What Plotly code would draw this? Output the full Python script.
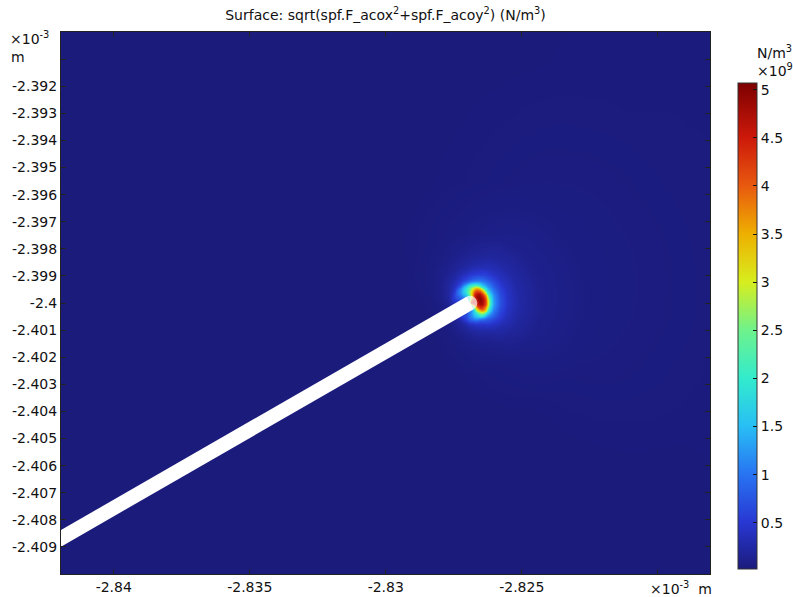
import numpy as np
import plotly.graph_objects as go

# ---------------- data (lengths in 1e-3 m, field in 1e9 N/m^3) ----------------
x_range = [-2.84194, -2.81808]
y_range = [-2.41, -2.39]
x_tick_vals = [-2.84, -2.835, -2.83, -2.825, -2.82]
x_tick_text = ["-2.84", "-2.835", "-2.83", "-2.825", ""]
y_tick_vals = [-2.391, -2.392, -2.393, -2.394, -2.395, -2.396, -2.397, -2.398, -2.399,
               -2.4, -2.401, -2.402, -2.403, -2.404, -2.405, -2.406, -2.407, -2.408, -2.409]
y_tick_text = ["", "-2.392", "-2.393", "-2.394", "-2.395", "-2.396", "-2.397", "-2.398", "-2.399",
               "-2.4", "-2.401", "-2.402", "-2.403", "-2.404", "-2.405", "-2.406", "-2.407", "-2.408", "-2.409"]

# wire centreline (start outside view, tip centre) and its radius
wire_x = [-2.8450, -2.8269]
wire_y = [-2.41045, -2.4000]
wire_radius = 0.000265

# field magnitude vs distance from tip centre, along the hottest direction
profile_r = [0.000265, 0.00033, 0.00040, 0.00048, 0.00055, 0.00062, 0.00068, 0.00074,
             0.00081, 0.00088, 0.00099, 0.00114, 0.0014, 0.00184, 0.0026, 0.0044, 0.0092, 0.026]
profile_v = [4.6, 4.9, 5.0, 4.8, 4.4, 3.8, 3.0, 2.2, 1.65, 1.3, 1.0, 0.7, 0.42, 0.24, 0.12,
             0.055, 0.03, 0.02]
# relative strength vs angle (deg) measured from the wire axis direction
angle_deg = [-180, -135, -110, -90, -75, -57, -35, -12, 15, 34, 50, 65, 90, 120, 150, 180]
angle_factor = [0.05, 0.15, 0.26, 0.38, 0.6, 0.86, 0.97, 1.0, 0.97, 0.86, 0.66, 0.5, 0.32, 0.18, 0.09, 0.05]

z_min, z_max = 0.02, 5.07
cbar_vals = [0.5, 1, 1.5, 2, 2.5, 3, 3.5, 4, 4.5, 5]
cbar_text = ["0.5", "1", "1.5", "2", "2.5", "3", "3.5", "4", "4.5", "5"]

colorscale = [
    [0.000, "rgb(27,27,124)"],
    [0.095, "rgb(40,55,210)"],
    [0.194, "rgb(40,115,242)"],
    [0.293, "rgb(40,190,245)"],
    [0.392, "rgb(50,235,205)"],
    [0.491, "rgb(110,242,140)"],
    [0.590, "rgb(215,238,30)"],
    [0.690, "rgb(238,175,0)"],
    [0.788, "rgb(232,90,15)"],
    [0.887, "rgb(205,25,10)"],
    [1.000, "rgb(125,0,0)"],
]

# ---------------- field grid built from the read profiles ----------------
tx, ty = wire_x[1], wire_y[1]
axis_ang = np.degrees(np.arctan2(wire_y[1] - wire_y[0], wire_x[1] - wire_x[0]))
w = 0.0028
gx = np.unique(np.concatenate([np.linspace(x_range[0] - 0.0005, tx - w, 10),
                               np.linspace(tx - w, tx + w, 330),
                               np.linspace(tx + w, x_range[1] + 0.0005, 12)]))
gy = np.unique(np.concatenate([np.linspace(y_range[0] - 0.0005, ty - w, 10),
                               np.linspace(ty - w, ty + w, 330),
                               np.linspace(ty + w, y_range[1] + 0.0005, 10)]))
X, Y = np.meshgrid(gx, gy)
R = np.hypot(X - tx, Y - ty)
A = np.degrees(np.arctan2(Y - ty, X - tx)) - axis_ang
A = (A + 180) % 360 - 180
Z = np.interp(R, profile_r, profile_v) * np.interp(A, angle_deg, angle_factor)
Z = np.maximum(Z, z_min)
Z = np.round(Z, 4)

# ---------------- layout geometry (screen pixels) ----------------
W, H = 793, 597
PL, PR, PT, PB = 61, 710, 32, 574          # plot area edges
pw, ph = PR - PL, PB - PT
FS = 14
FONT = dict(family="DejaVu Sans", size=FS, color="#111")


def fx(px):
    return (px - PL) / pw


def fy(py):
    return (PB - py) / ph


fig = go.Figure()
fig.add_trace(go.Heatmap(
    x=gx, y=gy, z=Z, zmin=z_min, zmax=z_max, zsmooth="best",
    colorscale=colorscale, showscale=True,
    colorbar=dict(
        x=fx(738), xanchor="left", xpad=0,
        y=fy(326), yanchor="middle", ypad=0,
        len=486, lenmode="pixels", thickness=19, thicknessmode="pixels",
        outlinewidth=1, outlinecolor="#333",
        tickvals=cbar_vals, ticktext=cbar_text, ticks="inside", ticklen=4,
        tickcolor="#111", tickfont=FONT,
    ),
    hoverinfo="skip",
))

px_per_unit = pw / (x_range[1] - x_range[0])
fig.add_trace(go.Scatter(
    x=wire_x, y=wire_y, mode="lines+markers",
    line=dict(color="white", width=2 * wire_radius * px_per_unit),
    marker=dict(size=[0, 2 * wire_radius * px_per_unit], color="white", line=dict(width=0)),
    hoverinfo="skip", showlegend=False,
))

axis_common = dict(showline=True, linecolor="#222", linewidth=1, mirror="ticks",
                   ticks="inside", ticklen=5, tickcolor="#222", showgrid=False, zeroline=False,
                   tickfont=FONT)
fig.update_xaxes(range=x_range, tickmode="array", tickvals=x_tick_vals, ticktext=x_tick_text,
                 **axis_common)
fig.update_yaxes(range=y_range, tickmode="array", tickvals=y_tick_vals, ticktext=y_tick_text,
                 **axis_common)


def ann(text, px, py, anchor="left"):
    return dict(text=text, xref="paper", yref="paper", x=fx(px), y=fy(py),
                xanchor=anchor, yanchor="middle", showarrow=False, font=FONT)


fig.update_layout(
    width=W, height=H,
    margin=dict(l=PL, r=W - PR, t=PT, b=H - PB, autoexpand=False),
    paper_bgcolor="white", plot_bgcolor="rgb(27,27,124)",
    font=FONT,
    showlegend=False,
    title=dict(text="Surface: sqrt(spf.F_acox<sup>2</sup>+spf.F_acoy<sup>2</sup>) (N/m<sup>3</sup>)",
               x=(PL + PR) / 2 / W, xanchor="center", y=1 - 15 / H, yanchor="middle",
               font=FONT),
    annotations=[
        ann("×10<sup>-3</sup>", 8, 38),
        ann("m", 9, 57),
        ann("×10<sup>-3</sup>  m", 714, 588, "right"),
        ann("N/m<sup>3</sup>", 755, 52),
        ann("×10<sup>9</sup>", 755, 70),
    ],
)

fig.write_html("out.html", config={"displayModeBar": False},
               post_script="document.body.style.margin='0';document.body.style.overflow='hidden';")
